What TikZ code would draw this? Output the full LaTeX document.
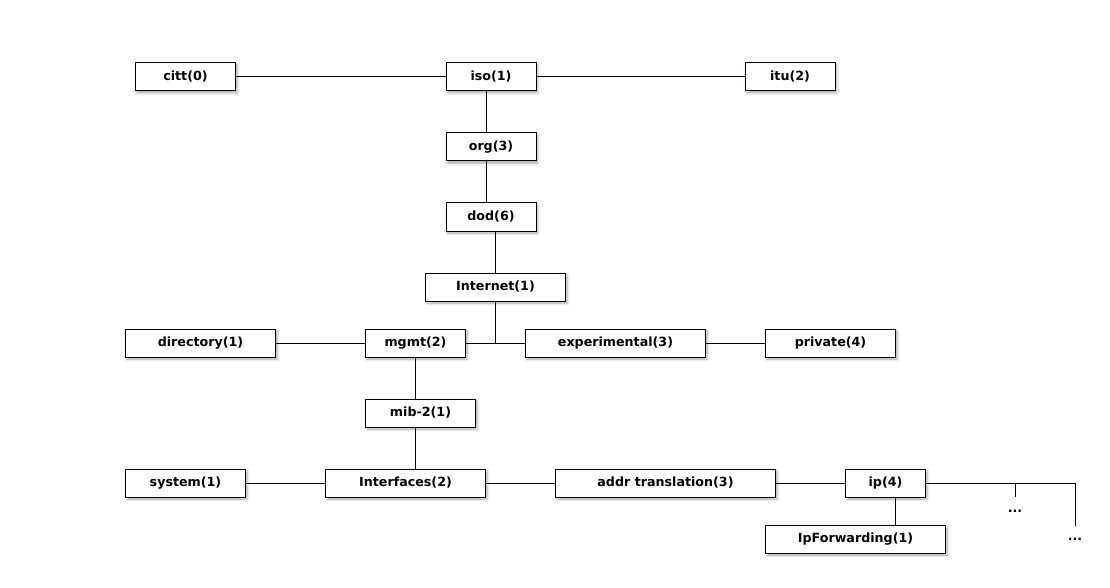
\documentclass[tikz,border=0pt]{standalone}
\usepackage{fontspec}
\setmainfont{DejaVu Sans}
\usetikzlibrary{shadows.blur}

\tikzset{
  oid/.style={draw, fill=white, line width=0.75pt, minimum height=21pt, inner sep=0pt,
    font=\bfseries\fontsize{9.5}{11}\selectfont,
    blur shadow={shadow xshift=1.2pt, shadow yshift=-1.5pt, shadow blur steps=4, shadow opacity=35}},
  link/.style={line width=0.75pt},
  more/.style={font=\bfseries\fontsize{9.5}{11}\selectfont, inner sep=0pt}
}

\begin{document}
\begin{tikzpicture}[x=0.75pt, y=-0.75pt]
\useasboundingbox (0,0) rectangle (1110,588);

% top of the tree
\node[oid, minimum width=75pt] (citt) at (185.5,77) {citt(0)};
\node[oid, minimum width=67.5pt] (iso) at (491,77) {iso(1)};
\node[oid, minimum width=67.5pt] (itu) at (790,77) {itu(2)};
\node[oid, minimum width=67.5pt] (org) at (491,147) {org(3)};
\node[oid, minimum width=67.5pt] (dod) at (491,217) {dod(6)};
\node[oid, minimum width=105pt] (internet) at (495.5,287) {Internet(1)};

% internet subtree
\node[oid, minimum width=112.5pt] (directory) at (200.5,343) {directory(1)};
\node[oid, minimum width=75pt] (mgmt) at (415.5,343) {mgmt(2)};
\node[oid, minimum width=135pt] (experimental) at (615.5,343) {experimental(3)};
\node[oid, minimum width=97.5pt] (private) at (830.5,343) {private(4)};
\node[oid, minimum width=82.5pt] (mib) at (420.5,413) {mib-2(1)};

% mib-2 subtree
\node[oid, minimum width=90pt] (system) at (185.5,483) {system(1)};
\node[oid, minimum width=120pt] (interfaces) at (405.5,483) {Interfaces(2)};
\node[oid, minimum width=165pt] (addr) at (665.5,483) {addr translation(3)};
\node[oid, minimum width=60pt] (ip) at (885.5,483) {ip(4)};
\node[oid, minimum width=135pt] (ipfwd) at (855.5,539) {IpForwarding(1)};
\node[more] (dotsA) at (1015,511) {...};
\node[more] (dotsB) at (1075,539) {...};
\coordinate (endA) at (1015,497);
\coordinate (endB) at (1075,526);
\coordinate (junction) at (internet.south |- mgmt.east);

% connectors
\draw[link] (citt) -- (iso) -- (itu);
\draw[link] ([xshift=-3.75pt]iso.south) -- ([xshift=-3.75pt]org.north);
\draw[link] ([xshift=-3.75pt]org.south) -- ([xshift=-3.75pt]dod.north);
\draw[link] (dod.south -| internet.north) -- (internet.north);
\draw[link] (internet.south) -- (junction);
\draw[link] (mgmt) -- (experimental);
\draw[link] (directory) -- (mgmt);
\draw[link] (experimental) -- (private);
\draw[link] (mgmt.south) -- (mgmt.south |- mib.north);
\draw[link] (mgmt.south |- mib.south) -- (mgmt.south |- interfaces.north);
\draw[link] (system) -- (interfaces) -- (addr) -- (ip);
\draw[link] ([xshift=7.5pt]ip.south) -- ([xshift=7.5pt]ip.south |- ipfwd.north);
\draw[link] (ip.east) -- (endB |- ip.east) -- (endB);
\draw[link] (endA |- ip.east) -- (endA);

\end{tikzpicture}
\end{document}
